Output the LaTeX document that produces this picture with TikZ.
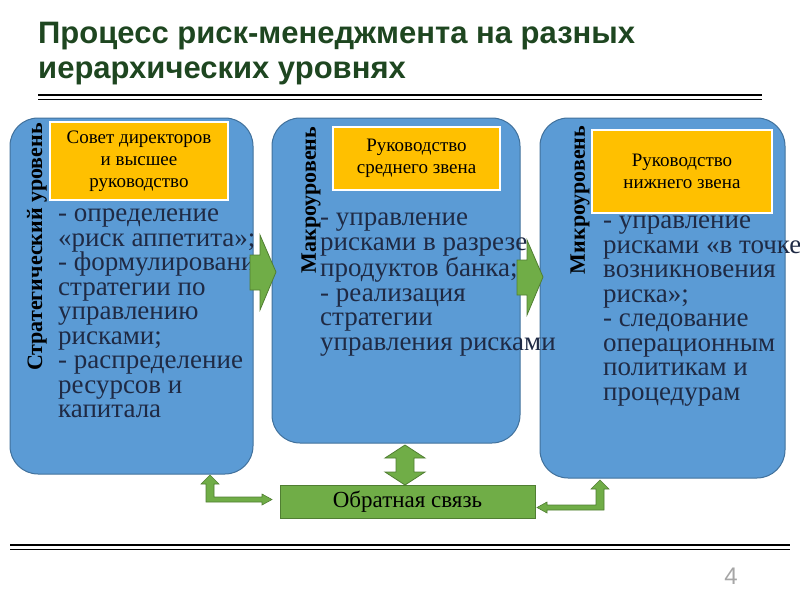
\documentclass[tikz,border=0pt]{standalone}
\usepackage{fontspec}
\setmainfont{Liberation Serif}
\newfontfamily\titlefont{Liberation Sans}
\usetikzlibrary{shapes.arrows}
\definecolor{bl}{HTML}{5B9BD5}
\definecolor{bld}{HTML}{41719C}
\definecolor{og}{HTML}{FFC000}
\definecolor{gr}{HTML}{70AD47}
\definecolor{grd}{HTML}{507E32}
\definecolor{tg}{HTML}{1E4620}
\definecolor{tx}{HTML}{1F2A44}
\tikzset{
 level/.style={draw=bld,fill=bl,line width=1pt,rounded corners=28pt},
 head/.style={draw=white,line width=1.5pt,fill=og,align=center,font=\fontsize{19}{22}\selectfont,inner sep=0pt},
 body/.style={anchor=north west,align=left,text=tx,font=\fontsize{27}{24.5}\selectfont,inner sep=0pt},
 side/.style={rotate=90,font=\bfseries\fontsize{22}{24}\selectfont,inner sep=0pt},
 garrow/.style={draw=grd,fill=gr,line width=0.8pt},
 thin/.style={draw=grd,fill=gr,line width=0.6pt}
}
\begin{document}
\begin{tikzpicture}[x=1pt,y=-1pt]
\useasboundingbox (0,0) rectangle (800,600);
\node[anchor=west,text=tg,font=\titlefont\bfseries\fontsize{31}{36}\selectfont,inner sep=0pt] (t1) at (38,36) {Процесс риск-менеджмента на разных};
\node[anchor=west,text=tg,font=\titlefont\bfseries\fontsize{31}{36}\selectfont,inner sep=0pt] (t2) at (38,73) {иерархических уровнях};
\draw[line width=2.5pt] (38,95) -- (762,95);
\draw[line width=0.6pt] (38,99.5) -- (762,99.5);
\draw[line width=2.5pt] (10,545) -- (790,545);
\draw[line width=0.6pt] (10,549.5) -- (790,549.5);
\node[text=gray!70,font=\titlefont\fontsize{24}{28}\selectfont] (pg) at (731,576) {4};
% boxes
\path[level] (10,118) rectangle (253,474);
\path[level] (272,118) rectangle (520,443);
\path[level] (540,118) rectangle (785,478);
\node[head,minimum width=178pt,minimum height=78pt] (h1) at (139,161) {Совет директоров\\и высшее\\руководство};
\node[head,minimum width=167pt,minimum height=63pt] (h2) at (416.5,158.5) {Руководство\\среднего звена};
\node[head,minimum width=180pt,minimum height=83pt] (h3) at (682,171.5) {Руководство\\нижнего звена};
\node[side] (s1) at (37,247) {Стратегический уровень};
\node[side] (s2) at (311,200) {Макроуровень};
\node[side] (s3) at (580,200) {Микроуровень};
\node[body] (b1) at (58,209) {- определение\\«риск аппетита»;\\- формулирование\\стратегии по\\управлению\\рисками;\\- распределение\\ресурсов и\\капитала};
\node[body] (b2) at (320,213) {- управление\\рисками в разрезе\\продуктов банка;\\- реализация\\стратегии\\управления рисками};
\node[body] (b3) at (603,216) {- управление\\рисками «в точке\\возникновения\\риска»;\\- следование\\операционным\\политикам и\\процедурам};
% arrows between
\path[garrow] (250,255) -- (260,255) -- (260,235) -- (276,272) -- (260,310) -- (260,290) -- (250,290) -- cycle;
\path[garrow] (517,260) -- (527,260) -- (527,240) -- (543,277) -- (527,315) -- (527,295) -- (517,295) -- cycle;
% feedback
\node[draw=grd,fill=gr,line width=0.8pt,minimum width=255pt,minimum height=33pt,inner sep=0pt,font=\fontsize{23}{25}\selectfont] (fb) at (407.5,502) {Обратная связь};
\path[garrow] (405,445) -- (425,458) -- (414,458) -- (414,472) -- (425,472) -- (405,485) -- (385,472) -- (396,472) -- (396,458) -- (385,458) -- cycle;
% elbow arrows
\path[thin] (210,475) -- (219,484) -- (214,484) -- (214,497) -- (262,497) -- (262,494) -- (272,499.5) -- (262,505) -- (262,502) -- (206,502) -- (206,484) -- (201,484) -- cycle;
\path[thin] (600,480) -- (609,489) -- (604,489) -- (604,510) -- (547,510) -- (547,513) -- (537,507.5) -- (547,502) -- (547,505) -- (596,505) -- (596,489) -- (591,489) -- cycle;
\end{tikzpicture}
\end{document}
